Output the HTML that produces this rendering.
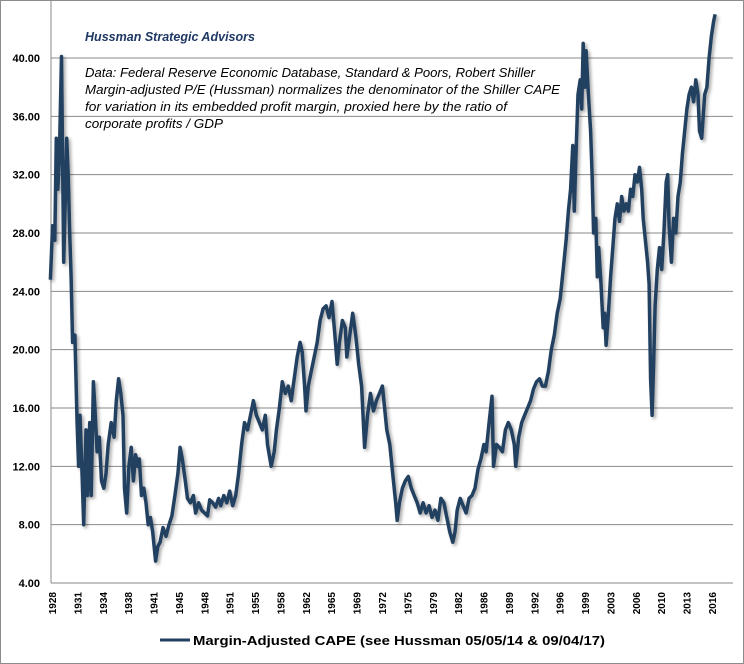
<!DOCTYPE html>
<html><head><meta charset="utf-8"><style>
body{margin:0;background:#fff}
svg{display:block;font-family:"Liberation Sans",sans-serif}
</style></head><body>
<svg id="chart" width="744" height="664" viewBox="0 0 744 664">
<defs><filter id="sh" x="-5%" y="-5%" width="110%" height="110%"><feDropShadow dx="2" dy="2" stdDeviation="1.5" flood-color="#000" flood-opacity="0.35"/></filter></defs>
<rect x="0.5" y="0.5" width="743" height="663" fill="#fff" stroke="#8c8c8c"/>
<g id="grid"></g>
<g id="yticks"></g>
<g id="xticks"></g>
<line x1="51" y1="0" x2="51" y2="583" stroke="#888" stroke-width="1"/>
<line x1="51" y1="583" x2="733" y2="583" stroke="#888" stroke-width="1"/>
<text x="85" y="41" font-size="13" font-weight="bold" font-style="italic" fill="#1f3864" textLength="170" lengthAdjust="spacingAndGlyphs">Hussman Strategic Advisors</text>
<g font-size="13" font-style="italic" fill="#000">
<text x="85" y="77" textLength="450" lengthAdjust="spacingAndGlyphs">Data: Federal Reserve Economic Database, Standard &amp; Poors, Robert Shiller</text>
<text x="85" y="94" textLength="475" lengthAdjust="spacingAndGlyphs">Margin-adjusted P/E (Hussman) normalizes the denominator of the Shiller CAPE</text>
<text x="85" y="111" textLength="422" lengthAdjust="spacingAndGlyphs">for variation in its  embedded profit margin, proxied here by the ratio of</text>
<text x="85" y="128" textLength="138" lengthAdjust="spacingAndGlyphs">corporate profits / GDP</text>
</g>
<path id="series" fill="none" stroke="#243f60" stroke-width="3.5" stroke-linejoin="round" filter="url(#sh)"/>
<line x1="160" y1="640" x2="190" y2="640" stroke="#243f60" stroke-width="3"/>
<text x="193" y="645" font-size="13" font-weight="bold" fill="#000" textLength="412" lengthAdjust="spacingAndGlyphs">Margin-Adjusted CAPE (see Hussman 05/05/14 &amp; 09/04/17)</text>
</svg>
<script>
const years=[1928.0,1928.3,1928.6,1928.8,1929.0,1929.2,1929.5,1929.8,1930.0,1930.2,1930.4,1930.6,1930.8,1931.0,1931.3,1931.6,1931.8,1932.0,1932.3,1932.5,1932.8,1933.0,1933.3,1933.5,1933.8,1934.0,1934.3,1934.6,1934.9,1935.2,1935.5,1935.8,1936.2,1936.6,1936.9,1937.2,1937.5,1937.8,1938.0,1938.3,1938.6,1938.9,1939.2,1939.5,1939.8,1940.0,1940.3,1940.6,1940.9,1941.2,1941.5,1941.8,1942.2,1942.5,1942.8,1943.2,1943.6,1944.0,1944.4,1944.8,1945.2,1945.5,1945.8,1946.2,1946.5,1946.9,1947.3,1947.6,1948.0,1948.4,1948.8,1949.2,1949.5,1949.9,1950.3,1950.7,1951.0,1951.4,1951.8,1952.2,1952.6,1953.0,1953.4,1953.8,1954.2,1954.6,1955.0,1955.4,1955.8,1956.2,1956.6,1957.0,1957.3,1957.8,1958.2,1958.5,1958.9,1959.3,1959.7,1960.1,1960.5,1960.9,1961.3,1961.7,1962.0,1962.3,1962.5,1962.8,1963.2,1963.6,1964.0,1964.4,1964.8,1965.2,1965.6,1966.0,1966.4,1966.7,1967.0,1967.4,1967.8,1968.0,1968.4,1968.8,1969.2,1969.6,1970.0,1970.4,1970.8,1971.2,1971.6,1972.0,1972.4,1972.8,1973.1,1973.4,1973.8,1974.2,1974.6,1974.8,1975.1,1975.5,1975.9,1976.3,1976.7,1977.1,1977.5,1977.9,1978.3,1978.7,1979.1,1979.5,1979.9,1980.3,1980.7,1981.1,1981.5,1981.9,1982.3,1982.6,1982.9,1983.3,1983.7,1984.1,1984.5,1984.9,1985.3,1985.7,1986.1,1986.5,1986.8,1987.2,1987.6,1987.8,1988.2,1988.6,1989.0,1989.4,1989.8,1990.2,1990.6,1990.8,1991.2,1991.6,1992.0,1992.4,1992.8,1993.2,1993.6,1994.0,1994.4,1994.8,1995.2,1995.6,1996.0,1996.4,1996.8,1997.2,1997.6,1997.9,1998.2,1998.5,1998.7,1998.9,1999.2,1999.5,1999.7,1999.9,2000.1,2000.3,2000.6,2000.9,2001.1,2001.3,2001.6,2001.8,2002.0,2002.3,2002.6,2002.8,2003.0,2003.3,2003.6,2003.9,2004.2,2004.5,2004.8,2005.1,2005.4,2005.7,2006.0,2006.3,2006.6,2006.9,2007.2,2007.5,2007.8,2008.0,2008.3,2008.6,2008.8,2009.0,2009.2,2009.4,2009.6,2009.9,2010.2,2010.5,2010.8,2011.1,2011.3,2011.5,2011.8,2012.1,2012.4,2012.7,2013.0,2013.3,2013.6,2013.9,2014.2,2014.5,2014.8,2015.1,2015.4,2015.6,2015.9,2016.1,2016.3,2016.6,2016.9,2017.2,2017.5,2017.7];
const capeValues=[24.8,28.5,27.5,34.5,31,33,40.1,26,30,34.5,32,28,25,20.5,21,15,12,15.5,11,8.0,14.5,10,15,10,17.8,16,13,14,11,10.5,11.5,13.5,15,14,16.5,18,17,15.5,10.5,8.8,12,13.3,11,12.8,12,12.5,10,10.5,9.5,8.0,8.5,7.5,5.5,6.5,6.8,7.8,7.2,8.0,8.6,10.0,11.5,13.3,12.5,11.0,9.8,9.5,10.0,8.8,9.5,9.0,8.8,8.6,9.7,9.5,9.2,9.8,9.3,10.0,9.5,10.3,9.3,10.0,11.5,13.5,15.0,14.5,15.5,16.5,15.5,15.0,14.5,15.5,13.5,12.0,13.0,14.5,16.0,17.8,17.0,17.5,16.5,18.0,19.5,20.5,19.8,17.5,15.8,17.5,18.5,19.5,20.5,22.0,22.8,23.0,22.2,23.3,21.0,19.0,20.5,22.0,21.5,19.5,21.0,22.5,21.0,19.0,17.5,13.3,15.5,17.0,15.8,16.5,17.0,17.5,16.0,14.5,13.5,11.5,9.5,8.3,9.5,10.5,11.0,11.3,10.5,10.0,9.5,8.8,9.5,8.8,9.3,8.5,9.0,8.3,9.8,9.5,8.5,7.5,6.8,7.5,9.0,9.8,9.3,8.8,9.8,10.0,10.5,11.8,12.5,13.5,13.0,15.0,16.8,12.0,13.5,13.3,13.0,14.5,15.0,14.5,13.5,12.0,14.0,15.0,15.5,16.0,16.5,17.3,17.8,18.0,17.5,17.5,18.5,20.0,21.0,22.5,23.5,25.5,27.5,29.5,31.0,34.0,29.5,33,37.5,38.5,36.5,41.0,38.0,40.5,37.5,35.0,32.0,28.0,29.0,25.0,27.0,24.5,21.5,22.5,20.3,22.5,25.0,27.0,29.0,30.0,28.8,30.5,29.5,30.0,29.5,31.0,30.5,32.0,31.5,32.5,31.0,29.0,27.5,26.0,24.5,18.0,15.5,19.0,23.0,25.5,27.0,25.5,28.0,31.5,32.0,28.5,26.0,29.0,28.0,30.5,31.5,33.5,35.0,36.5,37.5,38.0,37.0,38.5,37.5,35.0,34.5,36.0,37.5,38.0,40.0,41.5,42.5,43.0];
const yTickValues=[4,8,12,16,20,24,28,32,36,40];
const xTickLabels=["1928","1931","1934","1938","1941","1945","1948","1951","1955","1958","1962","1965","1969","1972","1975","1979","1982","1986","1989","1992","1996","1999","2003","2006","2010","2013","2016"];

const NS="http://www.w3.org/2000/svg";
const yScale=v=>583-(v-4)*(525/36);
const xScale=yr=>50.4+(yr-1928)*7.41;
const xTickPos=i=>52+i*(660/(xTickLabels.length-1));

const grid=document.getElementById('grid');
const yt=document.getElementById('yticks');
yTickValues.forEach(v=>{
  if(v>4){
    const l=document.createElementNS(NS,'line');
    l.setAttribute('x1',51);l.setAttribute('x2',733);
    l.setAttribute('y1',yScale(v));l.setAttribute('y2',yScale(v));
    l.setAttribute('stroke','#8a8a8a');l.setAttribute('stroke-width','1');
    
    
    grid.appendChild(l);
  }
  const t=document.createElementNS(NS,'text');
  t.setAttribute('x',40);t.setAttribute('y',yScale(v)+4);
  t.setAttribute('text-anchor','end');t.setAttribute('font-size','11');t.setAttribute('font-weight','bold');
  t.textContent=v.toFixed(2);
  
  
  yt.appendChild(t);
});
const xt=document.getElementById('xticks');
xTickLabels.forEach((lab,i)=>{
  const x=xTickPos(i);
  const t=document.createElementNS(NS,'text');
  t.setAttribute('transform','translate('+(x+4)+',592) rotate(-90)');
  t.setAttribute('text-anchor','end');t.setAttribute('font-size','10');t.setAttribute('font-weight','bold');
  t.textContent=lab;
  
  
  xt.appendChild(t);
});
let d='';
years.forEach((yr,i)=>{d+=(i?'L':'M')+xScale(yr).toFixed(1)+' '+yScale(capeValues[i]).toFixed(1);});
document.getElementById('series').setAttribute('d',d);
</script>
</body></html>
